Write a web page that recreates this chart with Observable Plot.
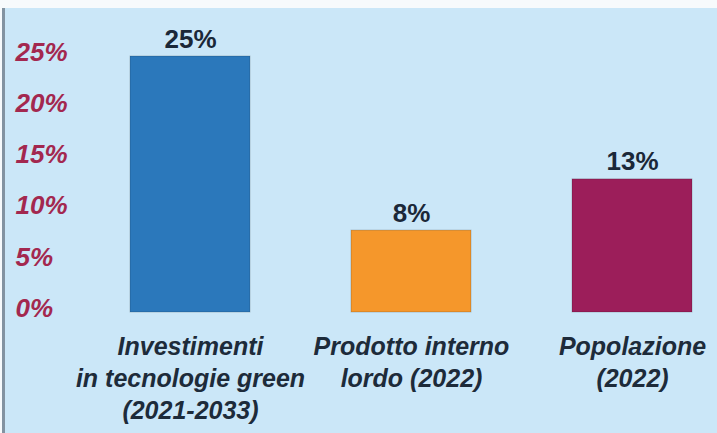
<!DOCTYPE html>
<html>
<head>
<meta charset="utf-8">
<script src="https://cdn.jsdelivr.net/npm/d3@7"></script>
<script src="https://cdn.jsdelivr.net/npm/@observablehq/plot@0.6"></script>
<style>
  html, body { margin: 0; padding: 0; background: #f7fafc; }
  #page { position: relative; width: 717px; height: 433px; overflow: hidden; background: #f7fafc; }
  #panel { position: absolute; left: 2px; top: 8px; width: 712px; height: 425px;
           border-left: 3px solid #8393a1; background: #cbe7f8; }
  #panel svg { display: block; }
</style>
</head>
<body>
<div id="page"><div id="panel"></div></div>
<script>
const categories = [
  "Investimenti\nin tecnologie green\n(2021-2033)",
  "Prodotto interno\nlordo (2022)",
  "Popolazione\n(2022)"
];
const values = [25, 8, 13];
const valueLabels = ["25%", "8%", "13%"];
const barColors = ["#2b78bb", "#f5972b", "#9c1e5a"];
const yTicks = [0, 5, 10, 15, 20, 25];

const data = categories.map((c, i) => ({category: c, value: values[i], label: valueLabels[i]}));

const chart = Plot.plot({
  width: 712,
  height: 425,
  marginTop: 48,
  marginBottom: 121,
  marginLeft: 124,
  marginRight: 24.5,
  style: {background: "transparent", fontFamily: "'Liberation Sans', Arial, sans-serif", overflow: "visible"},
  x: {domain: categories, paddingInner: 0.459, paddingOuter: 0, axis: null},
  y: {domain: [0, 25], axis: null},
  color: {domain: categories, range: barColors},
  marks: [
    Plot.barY(data, {x: "category", y: "value", fill: "category", stroke: "#000", strokeOpacity: 0.18, strokeWidth: 1}),
    Plot.text(data, {x: "category", y: "value", text: "label", lineAnchor: "bottom", dy: -9,
      fontSize: 26, fontWeight: "bold", fill: "#1b2838"}),
    Plot.axisX({tickSize: 0, tickPadding: 20, fontSize: 25, fontStyle: "italic", fontWeight: "bold",
      fill: "#1d2b3a", lineHeight: 1.28, label: null}),
    Plot.axisY({ticks: yTicks, tickFormat: d => d + "%", tickSize: 0, tickPadding: 0, textAnchor: "start",
      dx: -114, dy: -4, fontSize: 26, fontStyle: "italic", fontWeight: "bold", fill: "#a3284f", label: null})
  ]
});
document.getElementById("panel").appendChild(chart);
</script>
</body>
</html>
